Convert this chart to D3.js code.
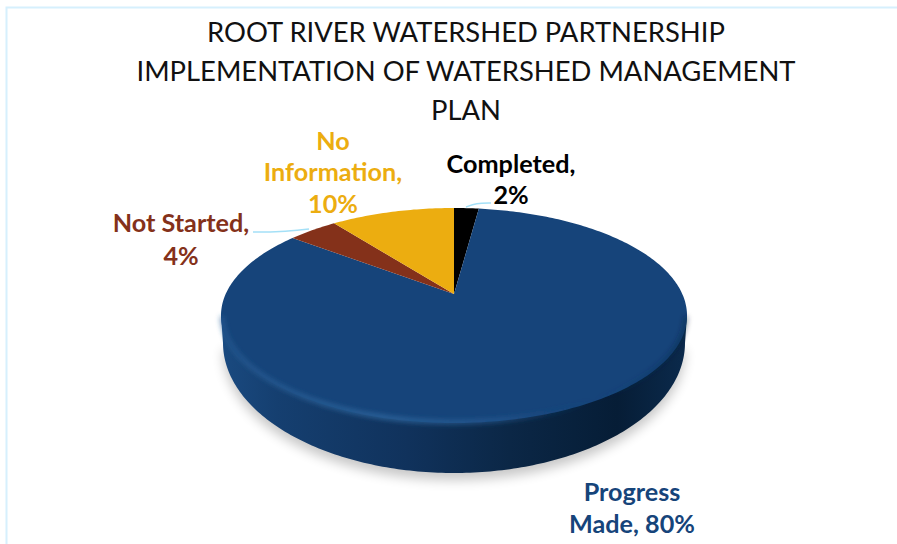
<!DOCTYPE html>
<html lang="en">
	<head>
		<meta charset="utf-8">
		<title>Root River Watershed Partnership</title>
		<script src="https://cdnjs.cloudflare.com/ajax/libs/d3/7.8.5/d3.min.js"></script>
		<style>
			html, body { margin: 0; padding: 0; background: #fff; }
			svg { display: block; }
			text { font-family: Lato, "Open Sans", sans-serif; text-anchor: middle; }
		</style>
	</head>
	<body>
		<script>
			/* values as printed on the data labels, clockwise from 12 o'clock */
			var categories = ["Completed", "Progress Made", "Not Started", "No Information"];
			var values = [2, 80, 4, 10];
			var sliceColors = ["#000000", "#16447a", "#84311a", "#ecad10"];
			var labelColors = ["#000000", "#16447a", "#84311a", "#ecad10"];
			var labelLines = [["Completed,", "2%"], ["Progress", "Made, 80%"], ["Not Started,", "4%"], ["No", "Information,", "10%"]];
			var titleLines = ["ROOT RIVER WATERSHED PARTNERSHIP", "IMPLEMENTATION OF WATERSHED MANAGEMENT", "PLAN"];

			var svgWidth = 897, svgHeight = 544;
			var svg = d3.select("body").append("svg").attr("width", svgWidth).attr("height", svgHeight);
			var defs = svg.append("defs");

			/* pie is tilted with perspective, so the centre is not the middle of the ellipse */
			var tilt = 0.2;
			var xScale = d3.scaleLinear().domain([-1, 1]).range([454 - 228.3, 454 + 228.3]);
			var yScale = d3.scaleLinear().domain([-1, 1]).range([294 + 103.2, 294 - 103.2]);
			function project(angle, r) {
				var u = r * Math.sin(angle), v = r * Math.cos(angle), w = 1 + tilt * v;
				return [xScale(u / w), yScale(v / w)];
			}
			var outline = d3.line();

			function addBlur(id, dev) {
				defs.append("filter").attr("id", id)
					.attr("x", "-20%").attr("y", "-20%").attr("width", "140%").attr("height", "140%")
					.append("feGaussianBlur").attr("stdDeviation", dev);
			}
			addBlur("soft", 6);
			addBlur("bevel", 2.4);

			var wallGrad = defs.append("linearGradient").attr("id", "wall");
			[[0, "#1a4a80"], [0.12, "#153f70"], [0.4, "#10325c"], [0.62, "#0b2746"], [0.85, "#061d36"], [1, "#0b2a4c"]].forEach(function(s) {
				wallGrad.append("stop").attr("offset", s[0]).attr("stop-color", s[1]);
			});
			var rimGrad = defs.append("linearGradient").attr("id", "rim");
			[[0, "#2a5f98", 0.7], [0.35, "#2f689f", 1], [0.6, "#2a5f98", 0.7], [0.8, "#17457a", 0], [1, "#071f3a", 0.5]].forEach(function(s) {
				rimGrad.append("stop").attr("offset", s[0]).attr("stop-color", s[1]).attr("stop-opacity", s[2]);
			});

			/* frame left over from the slide */
			svg.append("path")
				.attr("d", outline([[6.5, svgHeight], [6.5, 7.5], [svgWidth, 7.5]]))
				.attr("fill", "none").attr("stroke", "#d6f0fd").attr("stroke-width", 2);

			/* bottom ellipse of the disc */
			var steps = d3.range(0, 181).map(function(d) { return d * Math.PI / 180; });
			var bottomX = 454, bottomY = 343, bottomRx = 231, bottomRy = 130;
			var bottomEdge = steps.map(function(a) {
				return [bottomX - bottomRx * Math.cos(a), bottomY + bottomRy * Math.sin(a)];
			});
			var wallPoints = [[221, 316]].concat(bottomEdge).concat([[687, 316]]);

			/* shadow only shows below the disc, so leave out the upper part */
			svg.append("path").attr("d", outline(bottomEdge) + "Z")
				.attr("fill", "#000").attr("opacity", 0.22)
				.attr("transform", "translate(0,7)")
				.attr("filter", "url(#soft)");
			svg.append("path").attr("d", outline(wallPoints) + "Z").attr("fill", "url(#wall)");

			/* top surface, one path per slice */
			var pie = d3.pie().sort(null).value(function(d) { return d; });
			var arcs = pie(values);
			svg.selectAll("path.slice")
				.data(arcs)
				.enter()
				.append("path")
				.attr("class", "slice")
				.attr("fill", function(d, i) { return sliceColors[i]; })
				.attr("d", function(d) {
					var n = Math.ceil((d.endAngle - d.startAngle) * 60);
					var pts = d3.range(n + 1).map(function(i) {
						return project(d.startAngle + (d.endAngle - d.startAngle) * i / n, 1);
					});
					return outline([project(0, 0)].concat(pts)) + "Z";
				});

			/* light bevel along the front rim, only where the wall is behind it */
			var rimPoints = d3.range(102, 259).map(function(d) { return project(d * Math.PI / 180, 0.995); });
			svg.append("path").attr("d", outline(rimPoints))
				.attr("fill", "none").attr("stroke", "url(#rim)").attr("stroke-width", 4)
				.attr("filter", "url(#bevel)");

			/* leader lines */
			var leaders = [[[253, 232], [280, 232], [309, 229]], [[466, 207], [476, 203], [491, 203]]];
			svg.selectAll("path.leader")
				.data(leaders)
				.enter()
				.append("path")
				.attr("class", "leader")
				.attr("d", d3.line().curve(d3.curveBasis))
				.attr("fill", "none").attr("stroke", "#a4e0f7").attr("stroke-width", 1.5);

			/* title */
			var titleBase = [42, 81, 120];
			svg.selectAll("text.title")
				.data(titleLines)
				.enter()
				.append("text")
				.attr("class", "title")
				.attr("x", 466)
				.attr("y", function(d, i) { return titleBase[i]; })
				.attr("font-size", 27.4)
				.attr("fill", "#111")
				.text(function(d) { return d; });

			/* data labels */
			var labelX = [511, 632, 181, 333];
			var labelY = [[173, 204], [501, 533], [232, 265], [150, 181, 213]];
			labelLines.forEach(function(lines, i) {
				svg.selectAll("text.label" + i)
					.data(lines)
					.enter()
					.append("text")
					.attr("class", "label" + i)
					.attr("x", labelX[i])
					.attr("y", function(d, j) { return labelY[i][j]; })
					.attr("font-size", 25.2)
					.attr("font-weight", 700)
					.attr("fill", labelColors[i])
					.text(function(d) { return d; });
			});
		</script>
	</body>
</html>
